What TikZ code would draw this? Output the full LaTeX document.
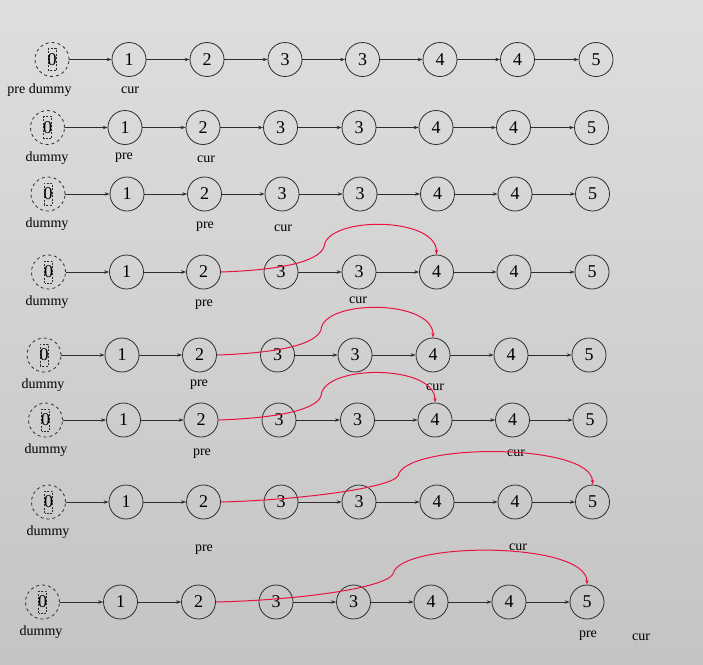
\documentclass[tikz,border=0pt]{standalone}
\usepackage{fontspec}
\setmainfont{Liberation Serif}
\usetikzlibrary{arrows.meta}
\definecolor{bgtop}{RGB}{222,222,222}
\definecolor{bgbot}{RGB}{196,196,196}
\definecolor{edgec}{RGB}{45,45,45}
\definecolor{redc}{RGB}{232,20,64}
\newcommand\restrow[9]{%
 \node[cnode] (r#1n1) at (#3,#2) {1};
 \node[cnode] (r#1n2) at (#4,#2) {2};
 \node[cnode] (r#1n3) at (#5,#2) {3};
 \node[cnode] (r#1n4) at (#6,#2) {3};
 \node[cnode] (r#1n5) at (#7,#2) {4};
 \node[cnode] (r#1n6) at (#8,#2) {4};
 \node[cnode] (r#1n7) at (#9,#2) {5};
}
\begin{document}
\begin{tikzpicture}[x=1pt,y=-1pt,
 cnode/.style={circle,draw=edgec,line width=0.8pt,minimum size=34pt,inner sep=0pt,font=\fontsize{18}{18}\selectfont},
 dnode/.style={cnode,dashed,path picture={\draw[dashed,dash pattern=on 2pt off 1.5pt,line width=0.6pt] ([xshift=-4pt,yshift=-11pt]path picture bounding box.center) rectangle ([xshift=4pt,yshift=11pt]path picture bounding box.center);}},
 link/.style={draw=edgec,line width=0.7pt,-{Stealth[length=5pt,width=3.5pt]}},
 redlink/.style={draw=redc,line width=1pt,-{Stealth[length=5pt,width=3.5pt]}},
 lbl/.style={font=\fontsize{14}{14}\selectfont,inner sep=0pt,yshift=-1.5pt}]
\shade[top color=bgtop,bottom color=bgbot] (0,0) rectangle (703,664);
\useasboundingbox (0,0) rectangle (703,664);
% row 1
\node[dnode] (r1n0) at (52,59.5) {0};
\restrow{1}{59.5}{129}{207}{285}{362.5}{440}{517.5}{596}
% row 2
\node[dnode] (r2n0) at (47.5,127.5) {0};
\restrow{2}{127.5}{125}{203}{280.5}{359}{436}{513.5}{591.5}
% row 3
\node[dnode] (r3n0) at (48,194) {0};
\restrow{3}{194}{127}{204.5}{282}{360}{437.5}{515}{592.5}
% row 4
\node[dnode] (r4n0) at (48.5,272) {0};
\restrow{4}{272}{126.5}{203.5}{281}{359}{436.5}{514}{592}
% row 5
\node[dnode] (r5n0) at (44,355) {0};
\restrow{5}{355}{122}{199.5}{277.5}{355}{433}{511}{589}
% row 6
\node[dnode] (r6n0) at (45.5,420) {0};
\restrow{6}{420}{123.5}{201}{279}{357.5}{435}{512.5}{590}
% row 7
\node[dnode] (r7n0) at (48.5,502) {0};
\restrow{7}{502}{126}{203.5}{281}{359}{437}{515}{592.5}
% row 8
\node[dnode] (r8n0) at (42.5,602) {0};
\restrow{8}{602}{120.5}{198.5}{276}{353.5}{431}{509}{587}
% links
\foreach \rr in {1,2,3}
  \foreach \i/\j in {0/1,1/2,2/3,3/4,4/5,5/6,6/7}
    \draw[link] (r\rr n\i) -- (r\rr n\j);
\foreach \rr in {4,5,6,7,8}
  \foreach \i/\j in {0/1,1/2,3/4,4/5,5/6,6/7}
    \draw[link] (r\rr n\i) -- (r\rr n\j);
% labels
\node[lbl] (l1a) at (39.5,89) {pre dummy};
\node[lbl] (l1b) at (130,89) {cur};
\node[lbl] (l2a) at (47,157) {dummy};
\node[lbl] (l2b) at (124,156) {pre};
\node[lbl] (l2c) at (206,157.5) {cur};
\node[lbl] (l3a) at (47,223) {dummy};
\node[lbl] (l3b) at (205,225.5) {pre};
\node[lbl] (l3c) at (283,227) {cur};
\node[lbl] (l4a) at (47,301) {dummy};
\node[lbl] (l4b) at (204,303) {pre};
\node[lbl] (l4c) at (358,299) {cur};
\node[lbl] (l5a) at (43,384) {dummy};
\node[lbl] (l5b) at (199,383) {pre};
\node[lbl] (l5c) at (435,386) {cur};
\node[lbl] (l6a) at (46,449) {dummy};
\node[lbl] (l6b) at (202,452) {pre};
\node[lbl] (l6c) at (516,452) {cur};
\node[lbl] (l7a) at (48,531) {dummy};
\node[lbl] (l7b) at (204,548) {pre};
\node[lbl] (l7c) at (518,546) {cur};
\node[lbl] (l8a) at (41,631) {dummy};
\node[lbl] (l8b) at (588,634) {pre};
\node[lbl] (l8c) at (641,636) {cur};
% red curves
\draw[redlink] (r4n2.east) .. controls (280,270) and (318,262) .. (324,247) .. controls (326,216) and (436.5,216) .. (r4n5.north);
\draw[redlink] (r5n2.east) .. controls (277,353) and (315,345) .. (321,330) .. controls (323,299) and (433,299) .. (r5n5.north);
\draw[redlink] (r6n2.east) .. controls (277,418) and (316,410) .. (321,396) .. controls (323,364) and (435,364) .. (r6n5.north);
\draw[redlink] (r7n2.east) .. controls (300,500) and (390,488) .. (398,476) .. controls (404,442.5) and (592.5,442.5) .. (r7n7.north);
\draw[redlink] (r8n2.east) .. controls (300,600) and (385,588) .. (393,574) .. controls (399,541) and (587,541) .. (r8n7.north);
\end{tikzpicture}
\end{document}
